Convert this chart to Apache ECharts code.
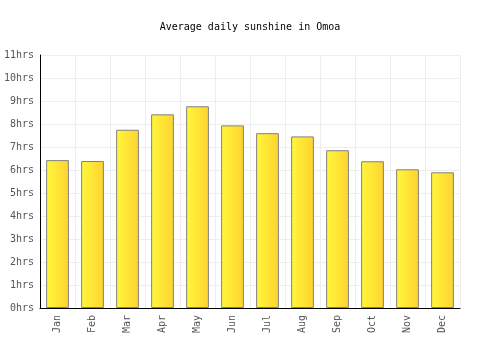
<!DOCTYPE html>
<html><head><meta charset="utf-8">
<script src="https://cdn.jsdelivr.net/npm/echarts@6/dist/echarts.min.js"></script>
<style>html,body{margin:0;padding:0;background:#fff}#c{width:500px;height:350px}</style>
</head><body><div id="c"></div>
<script>
var categories = ['Jan','Feb','Mar','Apr','May','Jun','Jul','Aug','Sep','Oct','Nov','Dec'];
var sunshine = [6.43, 6.39, 7.75, 8.42, 8.77, 7.94, 7.6, 7.46, 6.86, 6.38, 6.03, 5.9];
var yMax = 11;
var titleText = 'Average daily sunshine in Omoa';
var font = 'DejaVu Sans Mono';
var chart = echarts.init(document.getElementById('c'), null, {renderer:'canvas'});
chart.setOption({
  animation:false,
  backgroundColor:'#fff',
  title:{text:titleText,left:'center',top:17,textStyle:{fontFamily:font,fontSize:10,fontWeight:'normal',color:'#000'}},
  grid:{left:40,right:40,top:55,bottom:42,containLabel:false},
  xAxis:{type:'category',data:categories,boundaryGap:true,
    axisLine:{lineStyle:{color:'#000',width:1}},axisTick:{show:false},
    splitLine:{show:true,lineStyle:{color:'#eeeeee'}},
    axisLabel:{rotate:90,fontFamily:font,fontSize:10,color:'#555',margin:7}},
  yAxis:{type:'value',min:0,max:yMax,interval:1,
    axisLine:{show:true,lineStyle:{color:'#000',width:1}},axisTick:{show:false},
    splitLine:{lineStyle:{color:'#eeeeee'}},
    axisLabel:{formatter:'{value}hrs',fontFamily:font,fontSize:10,color:'#555',margin:6}},
  series:[{type:'bar',data:sunshine,barWidth:'65%',
    itemStyle:{borderColor:'#808080',borderWidth:1,
      color:new echarts.graphic.LinearGradient(0,0,1,0,[{offset:0,color:'#fff83a'},{offset:1,color:'#ffd232'}])}}]
});
</script></body></html>
